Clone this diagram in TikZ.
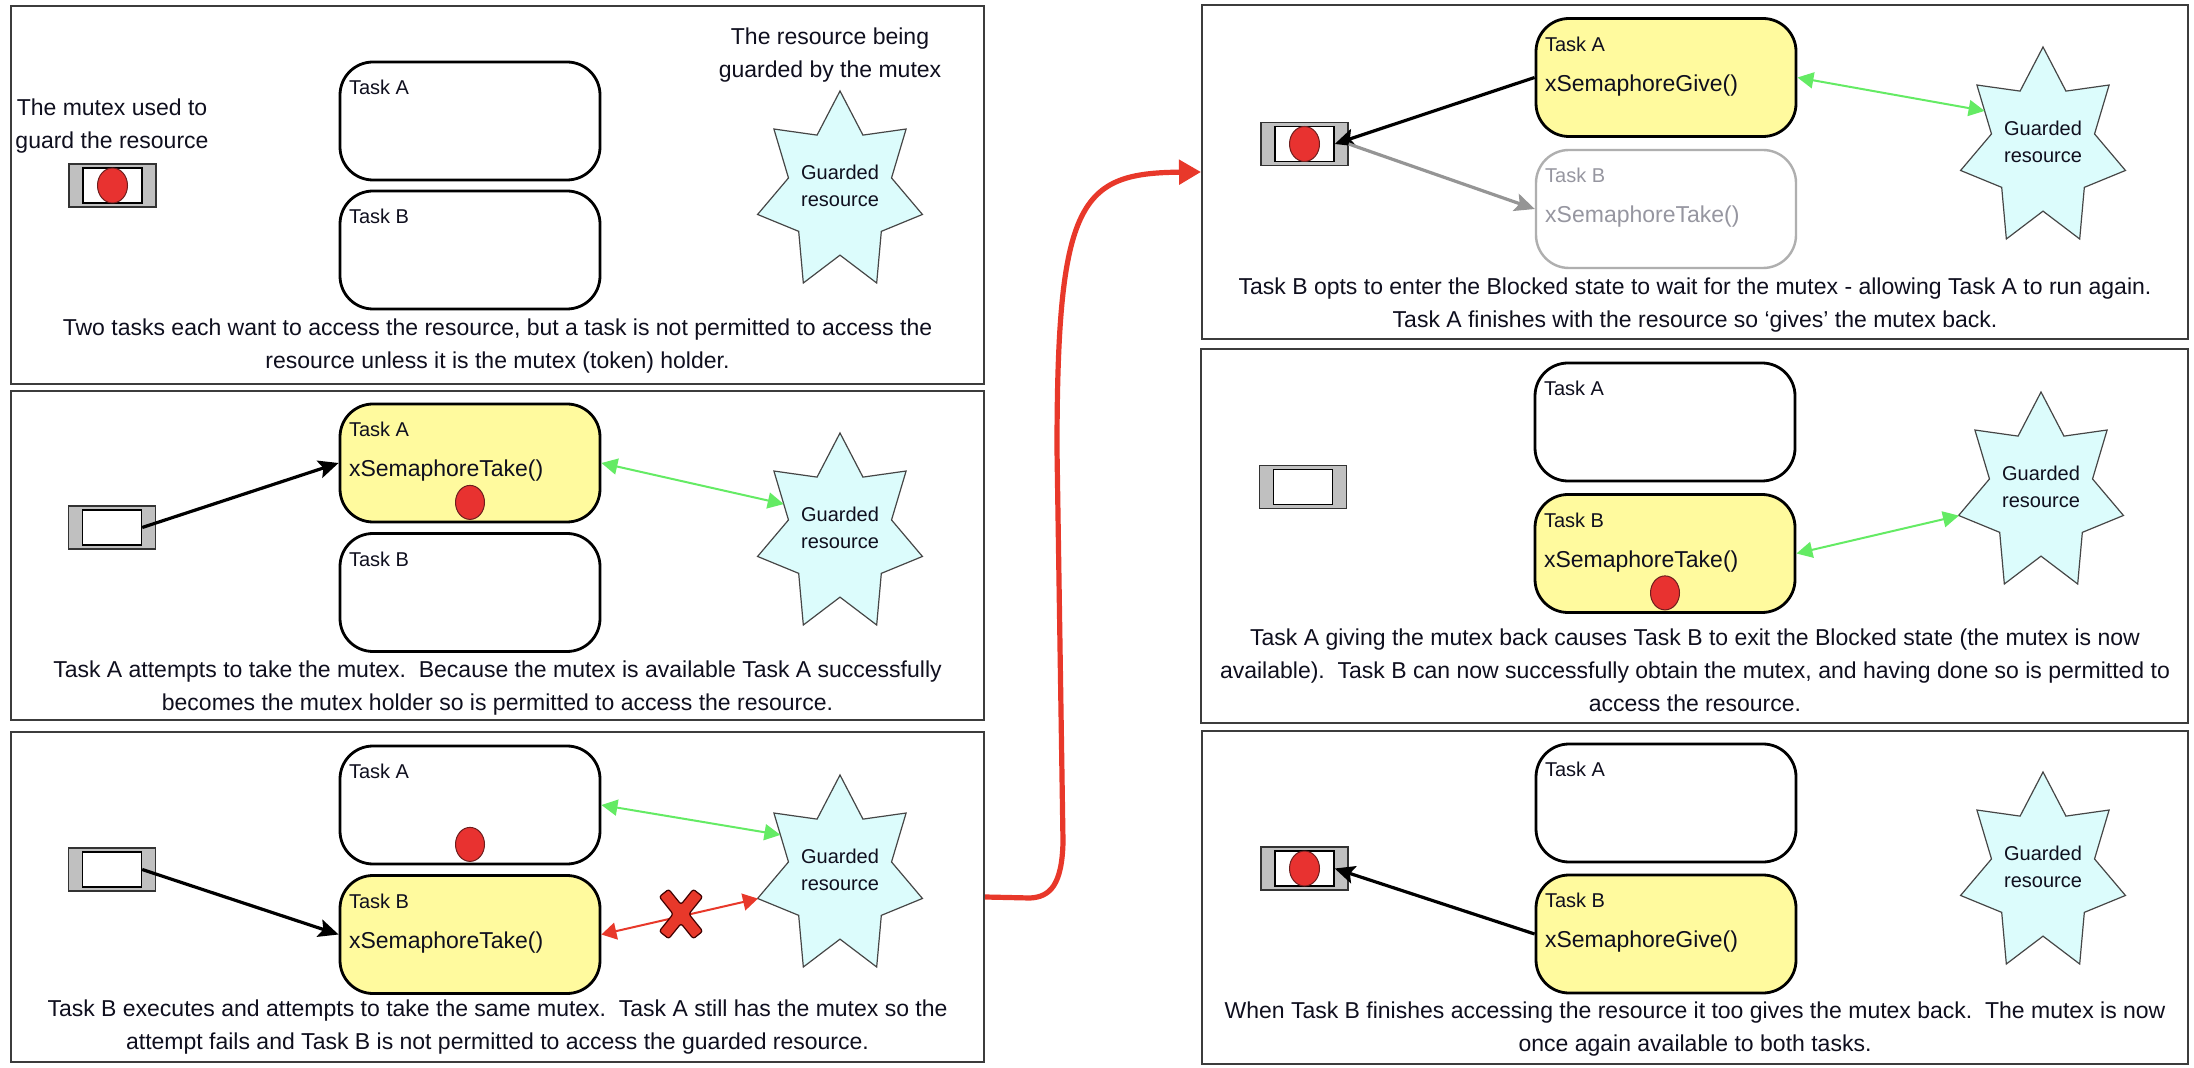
\documentclass[tikz,border=0pt]{standalone}
\usepackage{fontspec}
\setmainfont{Liberation Sans}
\usetikzlibrary{shapes.geometric,arrows.meta,calc,fit}

\definecolor{txt}{RGB}{15,15,30}
\definecolor{panelc}{RGB}{60,60,60}
\definecolor{yell}{RGB}{255,250,158}
\definecolor{starfill}{RGB}{220,252,252}
\definecolor{starline}{RGB}{70,70,70}
\definecolor{mgray}{RGB}{192,192,192}
\definecolor{dotred}{RGB}{232,50,48}
\definecolor{dotline}{RGB}{110,30,30}
\definecolor{grn}{RGB}{100,235,100}
\definecolor{redc}{RGB}{232,56,42}
\definecolor{fadeline}{RGB}{175,175,175}
\definecolor{fadetxt}{RGB}{150,150,160}

\tikzset{
  panel/.style={draw=panelc, line width=1pt, inner sep=0pt},
  taskbox/.style={draw=black, line width=1.4pt, rounded corners=16.5pt,
    minimum width=130pt, minimum height=59pt, inner sep=0pt, fill=white},
  activebox/.style={taskbox, fill=yell},
  fadebox/.style={taskbox, draw=fadeline, line width=1.2pt},
  tlabel/.style={anchor=base west, inner sep=0pt, text=txt,
    font=\fontsize{10}{12}\selectfont},
  fname/.style={anchor=base west, inner sep=0pt, text=txt,
    font=\fontsize{11.5}{14}\selectfont},
  bigtext/.style={align=center, inner sep=0pt, text=txt,
    font=\fontsize{11.5}{16.5}\selectfont},
  gtext/.style={align=center, inner sep=0pt, text=txt,
    font=\fontsize{10}{13.5}\selectfont},
  starshape/.style={star, star points=7, star point ratio=1.6,
    minimum size=101pt, inner sep=0pt, outer sep=0pt,
    draw=starline, line width=0.6pt, fill=starfill},
  mutexout/.style={draw=black!80, line width=0.7pt, fill=mgray,
    minimum width=43.5pt, minimum height=21.5pt, inner sep=0pt},
  mutexin/.style={draw=black, line width=0.7pt, fill=white,
    minimum width=29.5pt, minimum height=17.5pt, inner sep=0pt},
  mdot/.style={ellipse, draw=dotline, line width=0.5pt, fill=dotred,
    minimum width=15pt, minimum height=17.5pt, inner sep=0pt},
  tdot/.style={ellipse, draw=dotline, line width=0.5pt, fill=dotred,
    minimum width=14.5pt, minimum height=17pt, inner sep=0pt},
  blkarrow/.style={line width=1.6pt, black,
    -{Stealth[length=10pt,width=9pt,inset=2pt]}},
  grayarrow/.style={line width=1.6pt, fadeline!85!black,
    -{Stealth[length=10pt,width=9pt,inset=2pt]}},
  grnarrow/.style={line width=1pt, grn,
    {Triangle[length=8pt,width=8pt]}-{Triangle[length=8pt,width=8pt]}},
  redarrow/.style={line width=1pt, redc,
    {Triangle[length=7.5pt,width=8.5pt]}-{Triangle[length=7.5pt,width=8.5pt]}},
  bigred/.style={line width=2.6pt, redc,
    -{Triangle[length=11pt,width=12pt]}},
  xmark/.style={fill=redc, draw=black!75!red, line width=0.6pt,
    rounded corners=1.2pt},
}

\newcommand\mutexbox[3]{%
  \node[mutexout] (#1) at (#2,#3) {};
  \node[mutexin] (#1in) at (#2,#3) {};
}
\newcommand\guardstar[3]{%
  \begin{scope}[shift={(#2,#3)}, xscale=0.837]
    \node[starshape, transform shape] (#1) at (0,0) {};
  \end{scope}
  \node[gtext] (#1t) at ($(#1.center)+(0,-6)$) {Guarded\\resource};
}

\begin{document}
\begin{tikzpicture}[x=0.5pt, y=-0.5pt]
\fill[white] (0,0) rectangle (2194,1068);
\useasboundingbox (0,0) rectangle (2194,1068);

% ---------- panels
\node[panel, fit={(11,6) (984,384)}] (p1) {};
\node[panel, fit={(11,391) (984,720)}] (p2) {};
\node[panel, fit={(11,732) (984,1062)}] (p3) {};
\node[panel, fit={(1202,5) (2188,339)}] (p4) {};
\node[panel, fit={(1201,349) (2188,723)}] (p5) {};
\node[panel, fit={(1202,731) (2188,1064)}] (p6) {};

% ---------- panel 1
\node[bigtext] (lbm) at (112,126) {The mutex used to\\guard the resource};
\node[bigtext] (lbr) at (830,55) {The resource being\\guarded by the mutex};
\mutexbox{m1}{112.5}{185.5}
\node[mdot] (m1dot) at (m1) {};
\node[taskbox] (tA1) at (470,121) {};
\node[taskbox] (tB1) at (470,250) {};
\node[tlabel] (tA1l) at ($(tA1.north west)+(10,34)$) {Task A};
\node[tlabel] (tB1l) at ($(tB1.north west)+(10,34)$) {Task B};
\guardstar{s1}{840}{192}
\node[bigtext] (c1) at (497.5,346.5) {Two tasks each want to access the resource, but a task is not permitted to access the\\resource unless it is the mutex (token) holder.};

% ---------- panel 2
\mutexbox{m2}{112}{527.5}
\node[activebox] (tA2) at (470,463) {};
\node[taskbox] (tB2) at (470,592.5) {};
\node[tlabel] (tA2l) at ($(tA2.north west)+(10,34)$) {Task A};
\node[fname] (tA2f) at ($(tA2.north west)+(10,74)$) {xSemaphoreTake()};
\node[tdot] (tA2dot) at ($(tA2.south)+(0,-21)$) {};
\node[tlabel] (tB2l) at ($(tB2.north west)+(10,34)$) {Task B};
\guardstar{s2}{840}{534}
\draw[blkarrow] (m2in.east) -- (tA2.west);
\draw[grnarrow] (tA2.east) -- (s2.156);
\node[bigtext] (c2) at (497.5,688.5) {Task A attempts to take the mutex.\ \ Because the mutex is available Task A successfully\\becomes the mutex holder so is permitted to access the resource.};

% ---------- panel 3
\mutexbox{m3}{112}{869.5}
\node[taskbox] (tA3) at (470,805) {};
\node[activebox] (tB3) at (470,934.5) {};
\node[tlabel] (tA3l) at ($(tA3.north west)+(10,34)$) {Task A};
\node[tdot] (tA3dot) at ($(tA3.south)+(0,-21)$) {};
\node[tlabel] (tB3l) at ($(tB3.north west)+(10,34)$) {Task B};
\node[fname] (tB3f) at ($(tB3.north west)+(10,74)$) {xSemaphoreTake()};
\guardstar{s3}{840}{876}
\draw[blkarrow] (m3in.east) -- (tB3.west);
\draw[grnarrow] (tA3.east) -- (s3.150);
\draw[redarrow] (tB3.east) -- (s3.193);
\begin{scope}[shift={(681,914)}]
\draw[xmark] (7.9,0) -- (21.7,17.2) -- (12.3,24.8) -- (0,9.5) -- (-12.3,24.8)
  -- (-21.7,17.2) -- (-7.9,0) -- (-21.7,-17.2) -- (-12.3,-24.8) -- (0,-9.5)
  -- (12.3,-24.8) -- (21.7,-17.2) -- cycle;
\end{scope}
\node[bigtext] (c3) at (497.5,1027.5) {Task B executes and attempts to take the same mutex.\ \ Task A still has the mutex so the\\attempt fails and Task B is not permitted to access the guarded resource.};

% ---------- panel 4
\mutexbox{m4}{1304.5}{144}
\node[mdot] (m4dot) at (m4) {};
\node[activebox] (tA4) at (1666,77.5) {};
\node[fadebox] (tB4) at (1666,209) {};
\node[tlabel] (tA4l) at ($(tA4.north west)+(10,34)$) {Task A};
\node[fname] (tA4f) at ($(tA4.north west)+(10,74)$) {xSemaphoreGive()};
\node[tlabel, text=fadetxt] (tB4l) at ($(tB4.north west)+(10,34)$) {Task B};
\node[fname, text=fadetxt] (tB4f) at ($(tB4.north west)+(10,74)$) {xSemaphoreTake()};
\guardstar{s4}{2043}{148}
\draw[blkarrow] (tA4.west) -- (m4in.east);
\draw[grayarrow] (m4.east) -- (tB4.west);
\draw[grnarrow] (tA4.east) -- (s4.152);
\node[bigtext] (c4) at (1695,305) {Task B opts to enter the Blocked state to wait for the mutex - allowing Task A to run again.\\Task A finishes with the resource so ‘gives’ the mutex back.};

% ---------- panel 5
\mutexbox{m5}{1303}{487}
\node[taskbox] (tA5) at (1665,422) {};
\node[activebox] (tB5) at (1665,553.5) {};
\node[tlabel] (tA5l) at ($(tA5.north west)+(10,34)$) {Task A};
\node[tlabel] (tB5l) at ($(tB5.north west)+(10,34)$) {Task B};
\node[fname] (tB5f) at ($(tB5.north west)+(10,74)$) {xSemaphoreTake()};
\node[tdot] (tB5dot) at ($(tB5.south)+(0,-21)$) {};
\guardstar{s5}{2041}{493}
\draw[grnarrow] (tB5.east) -- (s5.193);
\node[bigtext] (c5) at (1695,670.5) {Task A giving the mutex back causes Task B to exit the Blocked state (the mutex is now\\available).\ \ Task B can now successfully obtain the mutex, and having done so is permitted to\\access the resource.};

% ---------- panel 6
\mutexbox{m6}{1304.5}{868.5}
\node[mdot] (m6dot) at (m6) {};
\node[taskbox] (tA6) at (1666,803) {};
\node[activebox] (tB6) at (1666,934) {};
\node[tlabel] (tA6l) at ($(tA6.north west)+(10,34)$) {Task A};
\node[tlabel] (tB6l) at ($(tB6.north west)+(10,34)$) {Task B};
\node[fname] (tB6f) at ($(tB6.north west)+(10,74)$) {xSemaphoreGive()};
\guardstar{s6}{2043}{873}
\draw[blkarrow] (tB6.west) -- (m6in.east);
\node[bigtext] (c6) at (1695,1029.5) {When Task B finishes accessing the resource it too gives the mutex back.\ \ The mutex is now\\once again available to both tasks.};

% ---------- red connector between columns
\draw[bigred] (p3.east) -- (1030,898) .. controls (1050,897) and (1062,885) .. (1063,842)
  -- (1057,450) .. controls (1057,200) and (1080,173) .. (p4.west);
\end{tikzpicture}
\end{document}
